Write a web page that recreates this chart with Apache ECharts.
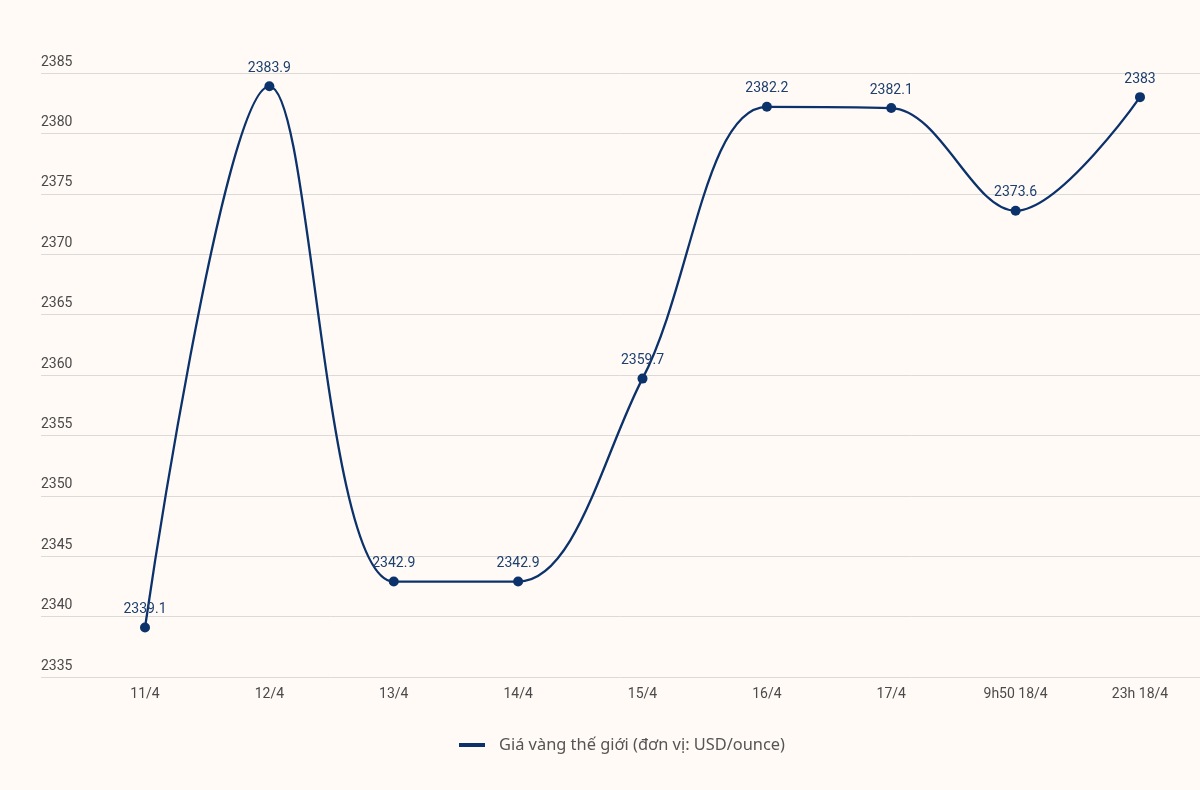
<!DOCTYPE html>
<html>
<head>
<meta charset="utf-8">
<script src="https://cdn.jsdelivr.net/npm/echarts@6/dist/echarts.min.js"></script>
<style>
  html, body { margin: 0; padding: 0; background: #fffaf6; }
  #chart { width: 1200px; height: 790px; }
</style>
</head>
<body>
<div id="chart"></div>
<script>
const categories = ['11/4', '12/4', '13/4', '14/4', '15/4', '16/4', '17/4', '9h50 18/4', '23h 18/4'];
const prices = [2339.1, 2383.9, 2342.9, 2342.9, 2359.7, 2382.2, 2382.1, 2373.6, 2383];
const seriesName = 'Giá vàng thế giới (đơn vị: USD/ounce)';
const yMin = 2335, yMax = 2385, yStep = 5;

const lineColor = '#0c326b';
const chart = echarts.init(document.getElementById('chart'));
chart.setOption({
  backgroundColor: '#fffaf6',
  animation: false,
  grid: [
    { left: 41, right: 0, top: 73, height: 604 },
    { left: 145, right: 60, top: 73, height: 604 }
  ],
  xAxis: [
    { gridIndex: 0, type: 'category', data: categories, show: false },
    {
      gridIndex: 1, type: 'category', data: categories, boundaryGap: false,
      axisLine: { show: false }, axisTick: { show: false }, splitLine: { show: false },
      axisLabel: { color: '#4a4a4a', fontFamily: 'Roboto', fontSize: 14, margin: 10 }
    }
  ],
  yAxis: [
    {
      gridIndex: 0, type: 'value', min: yMin, max: yMax, interval: yStep,
      axisLine: { show: false }, axisTick: { show: false },
      splitLine: { lineStyle: { color: '#dcdad7', width: 1 } },
      axisLabel: {
        inside: true, align: 'left', verticalAlign: 'bottom', margin: 0,
        padding: [0, 0, 4, 0], color: '#4a4a4a', fontFamily: 'Roboto', fontSize: 14,
        formatter: v => String(v)
      }
    },
    { gridIndex: 1, type: 'value', min: yMin, max: yMax, interval: yStep, show: false }
  ],
  legend: {
    bottom: 32, left: 454,
    icon: 'rect', itemWidth: 26, itemHeight: 4,
    textStyle: { color: '#555', fontFamily: 'Noto Sans', fontSize: 16.4, padding: [0, 0, 0, 9] },
    data: [seriesName]
  },
  series: [{
    name: seriesName, type: 'line', xAxisIndex: 1, yAxisIndex: 1,
    data: prices, smooth: 0.35,
    symbol: 'circle', symbolSize: 10,
    lineStyle: { color: lineColor, width: 2.3 },
    itemStyle: { color: lineColor },
    label: {
      show: true, position: 'top', distance: 6,
      color: '#1d3f6e', fontFamily: 'Roboto', fontSize: 14
    }
  }]
});
</script>
</body>
</html>
